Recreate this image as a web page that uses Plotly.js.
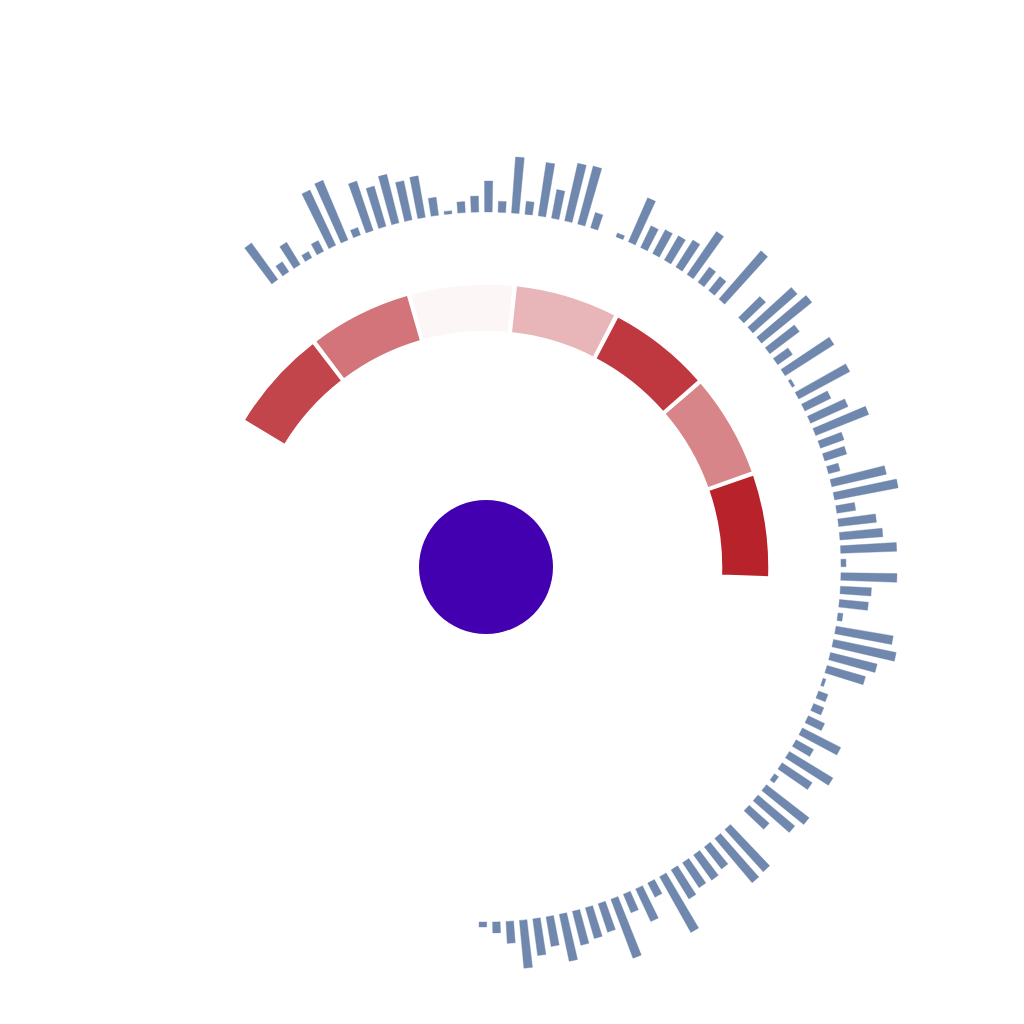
<!DOCTYPE html>
<html>
<head>
<meta charset="utf-8">
<script src="https://cdn.plot.ly/plotly-3.0.1.min.js"></script>
<style>html,body{margin:0;padding:0;background:#fff;}#chart{width:1024px;height:1024px;}</style>
</head>
<body>
<div id="chart"></div>
<script>
// Outer ring: 101 bar values (clockwise from upper-left)
var outer_values = [
  45, 12, 26, 7, 12, 61, 66, 8, 52, 42,
  50, 40, 42, 18, 3, 11, 16, 31, 11, 56,
  13, 54, 29, 59, 60, 16, 0, 4, 48, 24,
  27, 28, 32, 52, 19, 18, 64, 0, 30, 59,
  65, 37, 18, 58, 3, 58, 29, 41, 57, 25,
  23, 12, 56, 65, 19, 38, 43, 56, 5, 56,
  31, 29, 5, 58, 64, 48, 40, 3, 10, 11,
  18, 43, 20, 51, 36, 5, 54, 48, 27, 0,
  57, 58, 28, 31, 30, 34, 64, 16, 36, 20,
  63, 30, 32, 35, 48, 30, 37, 48, 22, 11,
  5
];
// Middle ring: 7 segments (counter-clockwise from lower-right), colour level 0..1
var ring_values = [1.0, 0.55, 0.9, 0.33, 0.04, 0.63, 0.84];
// Centre disc
var center_value = [1];

var outerStart = 126.5, outerStep = 2.17;
var outer_theta = outer_values.map(function(v, i){ return outerStart - i * outerStep; });
var ringStart = 8.5, ringStep = 21.62;
var ring_theta = ring_values.map(function(v, i){ return ringStart + i * ringStep; });

var traces = [
  {
    type: 'barpolar',
    r: outer_values,
    theta: outer_theta,
    base: 355,
    width: 1.22,
    marker: {color: '#7088ad', line: {color: '#7088ad', width: 0.4}},
    hoverinfo: 'skip',
    showlegend: false
  },
  {
    type: 'barpolar',
    r: ring_values.map(function(){ return 47.5; }),
    theta: ring_theta,
    base: 235.5,
    width: 21.0,
    marker: {
      color: ring_values,
      colorscale: [[0, '#ffffff'], [1, '#b8222a']],
      cmin: 0, cmax: 1,
      line: {color: '#ffffff', width: 1.5}
    },
    hoverinfo: 'skip',
    showlegend: false
  },
  {
    type: 'scatterpolar',
    mode: 'markers',
    r: [0],
    theta: [0],
    marker: {size: 134, color: '#4200b0', line: {width: 0}},
    hoverinfo: 'skip',
    showlegend: false
  }
];

var R = 420, cx = 486, cy = 567;
var layout = {
  width: 1024, height: 1024,
  margin: {l: 0, r: 0, t: 0, b: 0},
  paper_bgcolor: '#ffffff',
  showlegend: false,
  polar: {
    domain: {
      x: [(cx - R) / 1024, (cx + R) / 1024],
      y: [(1024 - cy - R) / 1024, (1024 - cy + R) / 1024]
    },
    bgcolor: '#ffffff',
    hole: 0,
    radialaxis: {visible: false, range: [0, R], showgrid: false, showline: false, showticklabels: false, ticks: ''},
    angularaxis: {visible: false, showgrid: false, showline: false, showticklabels: false, ticks: '', rotation: 0, direction: 'counterclockwise'}
  }
};

Plotly.newPlot('chart', traces, layout, {displayModeBar: false, staticPlot: true});
</script>
</body>
</html>
